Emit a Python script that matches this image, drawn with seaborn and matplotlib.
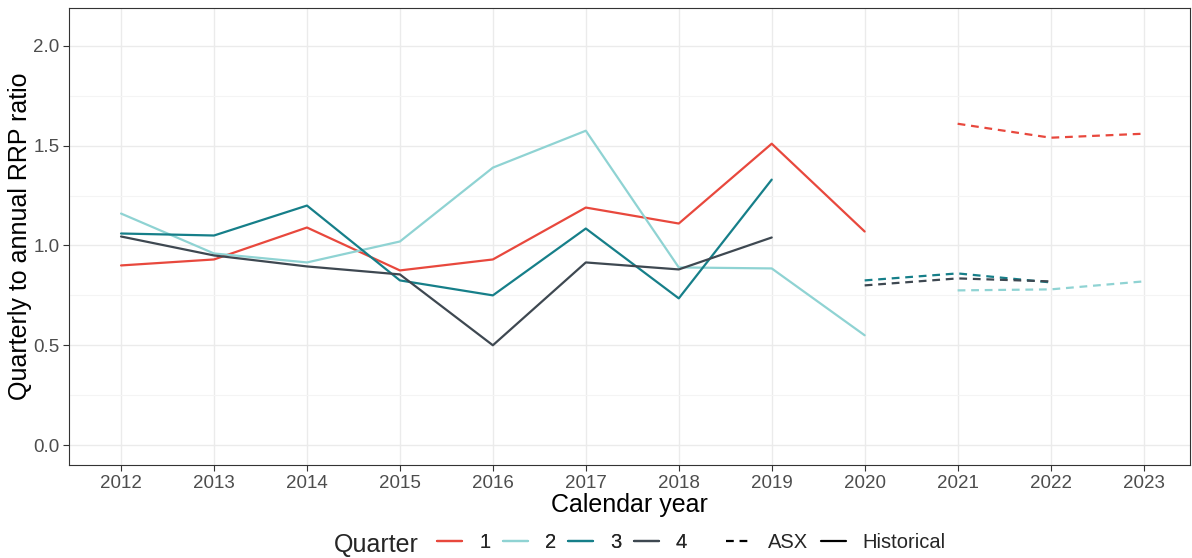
import numpy as np
import pandas as pd
import seaborn as sns
import matplotlib.pyplot as plt
from matplotlib.lines import Line2D
from matplotlib.ticker import MultipleLocator, FormatStrFormatter

# historical ratios, 2012-2020
hist_years = [2012, 2013, 2014, 2015, 2016, 2017, 2018, 2019, 2020]
q1_hist = [0.90, 0.93, 1.09, 0.875, 0.93, 1.19, 1.11, 1.51, 1.07]
q2_hist = [1.16, 0.96, 0.915, 1.02, 1.39, 1.575, 0.89, 0.885, 0.55]
q3_hist = [1.06, 1.05, 1.20, 0.825, 0.75, 1.085, 0.735, 1.33]
q4_hist = [1.045, 0.95, 0.895, 0.855, 0.50, 0.915, 0.88, 1.04]

# ASX futures based ratios
q1_asx_years = [2021, 2022, 2023]
q1_asx = [1.61, 1.54, 1.56]
q2_asx_years = [2021, 2022, 2023]
q2_asx = [0.775, 0.78, 0.82]
q3_asx_years = [2020, 2021, 2022]
q3_asx = [0.825, 0.86, 0.815]
q4_asx_years = [2020, 2021, 2022]
q4_asx = [0.80, 0.835, 0.82]

quarters = ['1', '2', '3', '4']
colors = ['#E8483D', '#8FD3D3', '#167F89', '#3E4851']
year_ticks = list(range(2012, 2024))

rows = []
for q, vals in zip(quarters, [q1_hist, q2_hist, q3_hist, q4_hist]):
    for y, v in zip(hist_years, vals):
        rows.append((y, v, q, 'Historical'))
for q, yrs, vals in zip(quarters,
                        [q1_asx_years, q2_asx_years, q3_asx_years, q4_asx_years],
                        [q1_asx, q2_asx, q3_asx, q4_asx]):
    for y, v in zip(yrs, vals):
        rows.append((y, v, q, 'ASX'))
df = pd.DataFrame(rows, columns=['year', 'ratio', 'quarter', 'source'])

sns.set_style('white')
plt.rcParams['font.family'] = ['Liberation Sans', 'DejaVu Sans']

fig = plt.figure(figsize=(11.92, 5.58), dpi=100)
ax = fig.add_axes([69 / 1192, 1 - 465 / 558, (1190 - 69) / 1192, (465 - 8) / 558])

sns.lineplot(data=df, x='year', y='ratio', hue='quarter', style='source',
             hue_order=quarters, palette=colors,
             dashes={'Historical': '', 'ASX': (3.5, 2.6)},
             estimator=None, linewidth=1.6, ax=ax, legend=False)

ax.set_xlim(2011.44, 2023.5)
ax.set_ylim(-0.1, 2.19)
ax.set_xticks(year_ticks)
ax.yaxis.set_major_locator(MultipleLocator(0.5))
ax.yaxis.set_minor_locator(MultipleLocator(0.25))
ax.yaxis.set_major_formatter(FormatStrFormatter('%.1f'))
ax.grid(which='major', color='#EBEBEB', lw=1.0)
ax.grid(which='minor', axis='y', color='#F4F4F4', lw=0.8)
ax.set_axisbelow(True)
for s in ax.spines.values():
    s.set_color('#333333')
    s.set_linewidth(0.8)
ax.tick_params(axis='both', which='major', length=4, width=0.8, color='#333333',
               labelsize=13.5, labelcolor='#4D4D4D', pad=3, bottom=True, left=True)
ax.tick_params(axis='y', which='minor', length=0)

ax.set_xlabel('Calendar year', fontsize=18, color='black', labelpad=1)
ax.set_ylabel('Quarterly to annual RRP ratio', fontsize=18, color='black', labelpad=1)

# legends
q_handles = [Line2D([], [], color=c, lw=1.6) for c in colors]
leg1 = fig.legend(q_handles, quarters, loc='center left',
                  bbox_to_anchor=(437 / 1192, 1 - 543 / 558), ncol=4,
                  frameon=False, fontsize=14.5, handlelength=1.25,
                  handletextpad=0.85, columnspacing=0.6,
                  borderaxespad=0, borderpad=0)
s_handles = [Line2D([], [], color='black', lw=1.6, dashes=(3.5, 2.6)),
             Line2D([], [], color='black', lw=1.6)]
leg2 = fig.legend(s_handles, ['ASX', 'Historical'], loc='center left',
                  bbox_to_anchor=(726 / 1192, 1 - 543 / 558), ncol=2,
                  frameon=False, fontsize=14.5, handlelength=1.25,
                  handletextpad=0.85, columnspacing=0.6,
                  borderaxespad=0, borderpad=0)
fig.add_artist(leg1)
fig.text(334 / 1192, 1 - 545 / 558, 'Quarter', fontsize=18, va='center', ha='left')

fig.savefig('out.png', dpi=100)
